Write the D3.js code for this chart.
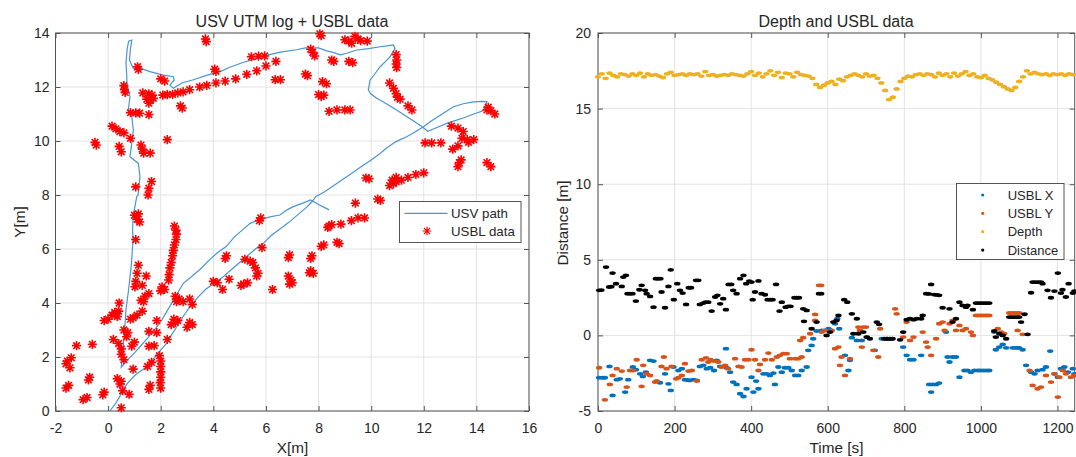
<!DOCTYPE html>
<html>
<head>
<meta charset="utf-8">
<script src="https://cdn.jsdelivr.net/npm/d3@7"></script>
<style>
body { margin: 0; background: #fff; }
svg { font-family: "Liberation Sans", Arial, sans-serif; }
</style>
</head>
<body>
<svg id="chart" width="1076" height="457"></svg>
<script>
// ---- left plot data: USV path [x, y] in metres
var usvPath = [
  [0.07,0],[0.3,0.3],[0.45,0.55],[0.64,0.9],[0.8,1.1],[1.05,1.35],[1.2,1.45],[1.47,1.64],[1.7,1.9],[1.95,2.2],
  [2.23,2.51],[2.4,2.8],[2.6,3.1],[2.85,3.5],[3.11,3.86],[3.4,4.2],[3.7,4.5],[4.05,4.75],[4.38,4.97],[4.7,5.25],
  [5.0,5.5],[5.3,5.75],[5.6,6.0],[5.9,6.21],[6.2,6.5],[6.4,6.65],[6.66,6.83],[6.95,7.05],[7.25,7.3],[7.55,7.55],
  [7.75,7.75],[7.9,7.95],[8.2,8.1],[8.5,8.3],[8.8,8.5],[9.07,8.68],[9.4,8.9],[9.7,9.1],[10.0,9.3],[10.34,9.54],
  [10.6,9.75],[10.9,9.95],[11.1,10.05],[11.35,10.16],[11.6,10.3],[11.99,10.53],[12.3,10.75],[12.7,11.0],[13.13,11.27],[13.5,11.38],
  [13.9,11.45],[14.2,11.47],[14.4,11.46],[14.35,11.3],[14.25,11.12],[13.9,11.0],[13.5,10.85],[12.92,10.67],[12.5,10.5],[12.15,10.36],
  [11.95,10.52],[11.6,10.75],[11.2,11.0],[10.8,11.25],[10.45,11.45],[10.21,11.58],[9.98,11.75],[9.89,11.89],[9.96,12.26],[10.15,12.5],
  [10.34,12.75],[10.55,12.95],[10.72,13.12],[10.91,13.43],[10.84,13.56],[10.6,13.52],[10.34,13.49],[9.9,13.42],[9.45,13.37],[9.07,13.25],
  [8.82,13.19],[8.55,13.28],[8.31,13.34],[8.0,13.45],[7.8,13.45],[7.5,13.45],[7.16,13.38],[6.6,13.3],[6.12,13.2],[5.6,13.05],
  [5.07,12.89],[4.6,12.72],[4.28,12.58],[3.8,12.45],[3.24,12.27],[2.8,12.15],[2.48,11.95],[2.35,12.07],[2.51,12.26],[2.48,12.38],
  [2.1,12.44],[1.59,12.57],[1.27,12.68],[0.95,12.7],[0.81,13.0],[0.85,13.4],[0.9,13.74],[0.78,13.7],[0.72,13.38],[0.68,12.89],
  [0.71,12.4],[0.71,12.14],[0.83,11.64],[0.77,11.15],[0.9,10.9],[0.96,10.41],[0.9,9.91],[0.83,9.42],[1.15,9.17],[1.21,8.68],
  [1.14,8.0],[1.09,7.94],[0.95,7.22],[0.93,6.7],[0.95,6.35],[0.88,5.37],[0.78,4.5],[0.68,3.76],[0.62,2.9],[0.55,2.16],
  [0.5,1.62],[0.75,1.9],[1.0,2.15],[1.21,2.38],[1.5,2.7],[1.8,3.05],[2.04,3.37],[2.3,3.8],[2.6,4.3],[2.86,4.73],
  [3.2,5.0],[3.5,5.25],[3.8,5.55],[4.13,5.84],[4.5,6.1],[4.8,6.45],[5.1,6.7],[5.4,6.95],[5.8,7.1],[6.2,7.2],
  [6.53,7.26],[6.8,7.45],[7.04,7.57],[7.4,7.7],[7.7,7.82],[8.0,7.65],[8.2,7.55],[8.4,7.45]
];

// USBL fixes [x, y]
var usblData = [
  [3.7,13.78],[3.73,13.68],[8.05,13.97],[8.1,13.9],[9.0,13.75],[9.15,13.7],[9.26,13.62],[9.38,13.88],[9.5,13.78],[9.6,13.72],[9.85,13.7],
  [7.7,13.4],[7.78,13.28],[7.85,13.15],[8.5,13.0],[8.58,12.95],[9.15,12.95],[9.3,12.9],
  [10.95,13.2],[10.97,13.0],[10.95,12.85],[10.97,12.72],[5.45,13.12],[5.72,13.14],[5.95,13.15],[4.05,12.66],[4.1,12.58],
  [6.38,12.95],[6.0,12.78],[5.65,12.6],[5.27,12.47],[4.85,12.3],[4.45,12.22],[4.1,12.15],[3.75,12.06],[3.48,12.0],[3.1,11.9],
  [2.85,11.82],[2.65,11.78],[2.45,11.73],[2.25,11.72],[2.08,11.7],[2.0,12.3],[2.15,12.22],[1.12,12.75],[1.15,12.65],
  [0.6,12.05],[0.62,11.9],[0.65,11.8],[1.32,11.78],[1.55,11.75],[1.67,11.7],[1.72,11.58],[1.6,11.5],[1.47,11.55],[1.55,11.4],
  [2.75,11.3],[2.82,11.22],[0.85,11.05],[1.05,11.04],[1.2,11.03],[1.55,10.98],[6.35,12.27],[6.55,12.27],[7.5,12.48],[7.58,12.42],
  [8.15,12.2],[8.3,12.12],[8.0,11.72],[8.1,11.65],[8.2,11.7],[8.4,11.1],[8.7,11.15],[9.0,11.15],[9.2,11.15],
  [10.7,12.15],[10.85,11.95],[10.95,11.75],[11.1,11.55],[11.0,11.62],[11.4,11.3],[11.55,11.15],
  [14.45,11.25],[14.55,11.12],[14.7,11.0],[14.4,11.15],[13.05,10.55],[13.3,10.48],[13.5,10.35],
  [12.05,9.93],[12.3,9.93],[12.65,9.93],[13.45,10.1],[13.65,10.05],[13.9,10.05],[13.7,9.95],[13.1,9.7],[13.3,9.82],
  [13.35,9.2],[13.3,9.05],[13.42,9.3],[14.4,9.2],[14.55,9.05],
  [12.0,8.82],[11.7,8.76],[11.4,8.65],[11.15,8.55],[10.95,8.5],[10.8,8.55],[10.85,8.42],[10.7,8.35],[10.95,8.65],
  [9.8,8.63],[9.92,8.6],[10.25,7.85],[10.35,7.8],[9.4,7.7],[9.5,7.15],[9.75,7.15],[9.25,7.05],[8.85,6.92],
  [8.35,6.8],[8.5,6.9],[8.4,6.85],[8.1,6.1],[8.2,6.15],[8.7,6.25],[8.78,6.2],[7.75,5.75],[7.7,5.65],
  [7.7,5.2],[7.8,5.1],[7.65,5.12],[6.85,5.68],[6.9,5.78],[6.85,5.0],[6.95,4.85],[6.9,4.7],[7.0,4.75],[6.25,4.5],
  [5.8,7.15],[5.75,7.05],[5.85,6.05],[5.2,5.62],[5.5,5.5],[5.6,5.3],[5.4,5.55],[5.65,5.0],[5.7,5.1],
  [5.05,4.65],[5.3,4.75],[5.15,4.7],[4.5,5.75],[4.45,5.65],[4.6,4.88],[4.15,4.75],[4.35,4.5],[4.0,4.8],
  [2.52,6.85],[2.58,6.7],[2.6,6.55],[2.58,6.35],[2.52,6.15],[2.48,5.95],[2.45,5.75],[2.4,5.5],[2.35,5.3],[2.32,5.05],[2.3,4.85],
  [2.05,4.6],[2.15,4.5],[2.0,4.45],[2.55,4.25],[2.7,4.15],[2.85,4.05],[2.6,4.05],[3.1,4.15],[3.2,3.95],
  [2.5,3.4],[2.65,3.35],[2.4,3.2],[2.55,3.28],[3.1,3.28],[3.0,3.1],[3.2,3.2],[2.25,2.65],
  [1.0,7.25],[1.1,7.1],[1.2,7.0],[1.15,7.3],[1.05,6.35],[1.15,5.4],[1.1,5.1],[1.05,4.8],[1.02,4.6],
  [1.65,8.5],[1.55,8.25],[1.52,8.0],[1.05,8.3],[1.25,9.85],[1.35,9.55],[1.3,9.7],[1.6,9.55],[2.25,10.05],
  [-0.5,9.95],[-0.45,9.85],[0.15,10.55],[0.3,10.45],[0.45,10.35],[0.6,10.3],[0.42,9.8],[0.5,9.6],[0.85,10.1],
  [1.25,4.1],[1.4,4.25],[1.55,4.35],[1.35,4.05],[1.45,5.0],[1.3,4.65],
  [0.25,3.65],[0.35,3.5],[0.0,3.4],[-0.15,3.35],[0.15,3.55],[0.4,3.7],[0.42,4.0],
  [0.85,3.4],[1.1,3.55],[1.3,3.7],[0.95,3.45],[0.6,3.0],[0.75,2.9],[0.7,2.75],[0.2,2.65],[0.4,2.5],
  [0.5,2.3],[0.6,1.9],[0.5,2.1],[0.9,2.4],[1.0,2.55],[1.55,2.4],[1.75,2.42],[1.55,2.95],[1.85,3.35],[1.85,2.9],
  [1.5,1.65],[1.65,1.8],[1.95,2.05],[2.0,1.85],[2.0,1.65],[2.0,1.45],[2.0,1.25],[1.98,1.05],[2.0,0.85],
  [1.6,0.95],[1.55,0.8],[0.95,1.55],[0.35,1.2],[0.5,1.1],[0.45,1.0],[0.55,0.75],[0.8,0.62],[0.5,0.12],
  [-0.15,0.7],[-0.2,0.6],[-0.7,1.25],[-0.75,1.15],[-0.8,0.5],[-0.95,0.42],[-1.5,0.95],[-1.6,0.85],
  [-1.55,1.85],[-1.4,1.97],[-1.45,1.6],[-1.6,1.75],[-1.2,2.42],[-0.6,2.47]
];

// ---- right plot data: [time s, value m]
var depth = [
  [0,17.1],[10,17.3],[20,17.0],[30,17.35],[40,17.2],[50,17.1],[60,17.3],[70,17.25],[80,17.15],[90,17.3],
  [100,17.2],[110,17.35],[120,17.1],[130,17.3],[140,17.2],[150,17.25],[160,17.15],[170,17.05],[180,17.3],[190,17.4],
  [200,17.2],[210,17.25],[220,17.3],[230,17.2],[240,17.3],[250,17.25],[260,17.3],[270,17.15],[280,17.45],[290,17.2],
  [300,17.25],[310,17.15],[320,17.2],[330,17.25],[340,17.2],[350,17.3],[360,17.25],[370,17.2],[380,17.15],[390,17.3],
  [400,17.45],[410,17.2],[420,17.35],[430,17.1],[440,17.3],[450,17.5],[460,17.2],[470,17.4],[480,17.05],[490,17.35],
  [500,17.3],[510,17.1],[520,17.4],[530,17.25],[540,17.2],[550,17.15],[560,17.0],[570,16.6],[580,16.4],[590,16.55],
  [600,16.7],[610,16.8],[620,16.6],[630,16.95],[640,16.85],[650,17.1],[660,17.2],[670,17.3],[680,17.2],[690,17.1],
  [700,17.3],[710,17.15],[720,17.2],[730,17.0],[740,16.7],[750,16.2],[760,15.6],[770,15.75],[780,16.3],[790,16.8],
  [800,17.0],[810,17.15],[820,17.1],[830,17.25],[840,17.3],[850,17.2],[860,17.3],[870,17.25],[880,17.1],[890,17.35],
  [900,17.2],[910,17.3],[920,17.1],[930,17.35],[940,17.15],[950,17.3],[960,17.45],[970,17.2],[980,17.3],[990,17.1],
  [1000,17.05],[1010,17.2],[1020,17.0],[1030,16.9],[1040,16.75],[1050,16.6],[1060,16.45],[1070,16.3],[1080,16.2],[1090,16.4],
  [1100,16.8],[1110,17.1],[1120,17.5],[1130,17.3],[1140,17.4],[1150,17.3],[1160,17.25],[1170,17.3],[1180,17.2],[1190,17.3],
  [1200,17.25],[1210,17.3],[1220,17.2],[1230,17.3],[1240,17.25]
];

var distance = [
  [3,2.98],[9,3.0],[21,4.52],[29,3.2],[35,3.22],[38,4.12],[47,3.42],[62,3.24],[66,3.86],[73,3.97],[77,2.76],[83,2.76],[90,2.76],
  [99,2.27],[108,3.02],[114,3.31],[123,2.98],[127,2.76],[136,2.58],[145,1.87],[151,3.75],[157,3.75],[163,3.75],[166,2.87],
  [175,1.83],[184,3.24],[190,4.34],[198,2.36],[207,3.42],[214,2.98],[221,2.8],[230,2.05],[237,3.15],[243,3.15],[256,3.64],
  [262,3.64],[266,2.05],[275,2.14],[281,2.2],[288,2.2],[297,1.61],[306,2.54],[312,2.65],[319,2.09],[327,2.43],[334,1.7],
  [341,3.37],[348,3.37],[353,2.98],[362,2.76],[371,3.75],[380,3.97],[387,3.42],[395,3.59],[401,3.53],[404,2.36],[410,2.87],
  [419,3.6],[427,2.76],[436,2.69],[443,2.36],[450,2.36],[456,2.36],[465,3.37],[474,1.61],[480,2.2],[490,1.87],[497,1.92],
  [503,1.92],[513,2.49],[519,2.49],[525,2.49],[536,1.76],[545,1.65],[538,0.93],[558,0.44],[571,0.88],[577,2.76],[583,2.76],
  [597,0],[606,0.22],[615,0.88],[623,0.99],[628,1.32],[643,2.36],[651,2.2],[663,1.43],[676,1.1],[667,0.11],[680,0.11],
  [693,0.22],[702,-0.11],[710,-0.22],[728,0.88],[734,0.73],[748,-0.22],[755,-0.22],[762,-0.22],[769,-0.22],[789,-0.29],
  [797,0.22],[806,1.04],[815,1.1],[824,1.04],[832,1.1],[844,1.1],[848,1.32],[857,2.76],[864,2.74],[870,3.37],[878,2.7],
  [885,2.68],[891,2.65],[900,1.83],[918,1.76],[926,0.88],[935,1.1],[944,2.2],[952,1.98],[961,1.87],[965,1.98],[979,1.7],
  [987,2.14],[994,2.14],[1001,2.14],[1008,2.14],[1015,2.14],[1022,2.14],[1035,0.29],[1039,-0.11],[1048,0.11],[1057,0],
  [1066,-0.22],[1074,1.21],[1081,1.21],[1088,1.21],[1095,1.21],[1100,1.21],[1105,0.88],[1114,1.4],[1122,0.07],[1131,2.82],
  [1135,3.53],[1142,3.53],[1150,3.53],[1157,3.53],[1161,3.42],[1174,2.98],[1183,2.49],[1192,2.93],[1201,4.12],[1209,2.8],
  [1213,3.02],[1222,2.54],[1229,3.42],[1240,2.8],[1244,2.93]
];

var usblY = [
  [3,-2.14],[18,-4.26],[31,-3.24],[38,-2.65],[49,-2.2],[62,-2.36],[75,-3.42],[84,-2.32],[92,-2.32],[101,-1.61],[114,-3.37],
  [118,-1.98],[127,-2.54],[136,-2.65],[149,-3.09],[153,-3.02],[166,-2.05],[172,-1.43],[179,-2.2],[192,-2.05],[204,-2.87],
  [210,-2.8],[219,-2.65],[227,-1.87],[236,-2.36],[245,-2.32],[258,-3.02],[271,-1.61],[282,-1.48],[288,-1.76],[294,-1.61],
  [303,-1.7],[314,-1.76],[323,-2.09],[332,-1.98],[340,-2.2],[358,-1.54],[367,-2.05],[375,-2.09],[384,-1.61],[393,-1.61],
  [401,-0.95],[410,-1.61],[419,-2.32],[423,-1.92],[436,-1.61],[445,-1.17],[454,-1.61],[467,-1.43],[475,-1.32],[484,-1.21],
  [493,-1.21],[501,-1.54],[515,-1.54],[523,-1.54],[532,-1.43],[528,-0.33],[536,-0.15],[554,0.11],[567,1.39],[567,0.99],
  [577,3.31],[583,3.31],[584,0.22],[593,0.33],[610,0.33],[615,0.88],[619,-0.88],[628,-0.77],[632,-1.98],[645,-2.65],
  [636,-1.43],[658,-1.54],[680,0.55],[684,0.33],[692,0.55],[700,0.55],[689,-0.77],[719,-0.99],[732,-1.43],[737,0.44],
  [776,1.76],[780,1.43],[797,-0.11],[806,0.88],[815,-0.33],[824,-0.11],[848,0.22],[857,-0.44],[861,-0.77],[870,-1.32],
  [883,-0.22],[891,0.77],[900,0.88],[905,0.33],[918,0.77],[926,0.99],[935,0.33],[944,0.66],[952,0.33],[961,0.44],
  [974,0.22],[979,0],[987,1.32],[994,1.32],[1001,1.32],[1008,1.32],[1015,1.32],[1022,1.32],[1044,0.44],[1053,0.22],
  [1061,0.11],[1074,1.48],[1081,1.48],[1088,1.48],[1095,1.48],[1100,1.48],[1096,0.33],[1109,0.07],[1127,-2.32],[1135,-3.31],
  [1148,-3.53],[1157,-3.42],[1170,-2.65],[1183,-3.09],[1192,-2.54],[1201,-4.08],[1205,-2.76],[1214,-2.32],[1222,-2.54],
  [1235,-2.76],[1244,-2.65]
];

var usblX = [
  [3,-2.8],[12,-2.8],[18,-2.8],[30,-2.05],[38,-3.97],[49,-2.93],[57,-2.87],[71,-3.75],[79,-2.93],[91,-2.09],[99,-2.27],
  [110,-2.54],[117,-2.71],[125,-2.43],[136,-1.65],[145,-1.7],[153,-3.02],[162,-3.13],[175,-2.54],[184,-3.2],[190,-3.64],
  [197,-2.09],[210,-2.32],[219,-2.2],[227,-2.93],[233,-2.95],[239,-2.98],[249,-2.93],[258,-2.98],[266,-2.05],[275,-1.98],
  [284,-2.2],[293,-2.14],[303,-2.32],[310,-1.65],[319,-2.05],[334,-0.88],[336,-2.14],[345,-2.43],[353,-3.09],[362,-3.24],
  [371,-3.86],[380,-4.04],[388,-3.53],[401,-2.76],[406,-3.75],[413,-3.02],[419,-3.53],[432,-2.54],[441,-2.54],[449,-2.65],
  [458,-2.49],[462,-3.24],[471,-2.09],[480,-2.43],[488,-2.14],[497,-2.14],[506,-2.32],[515,-2.65],[523,-2.65],[532,-2.32],
  [545,-2.09],[549,-0.99],[558,-0.66],[562,-0.22],[571,0.29],[584,0.33],[593,0.33],[602,0.44],[610,0.33],[619,0.77],
  [625,1.1],[630,0.44],[645,-1.32],[654,-2.32],[658,-1.65],[663,-0.15],[676,-0.33],[689,-0.33],[702,-0.11],[723,-0.99],
  [741,-0.22],[748,-0.22],[755,-0.22],[762,-0.22],[769,-0.22],[797,-0.77],[806,-1.32],[815,-1.61],[824,-1.61],[844,-1.32],
  [865,-3.24],[874,-3.24],[883,-3.24],[891,-3.15],[870,-3.75],[909,0.22],[913,-1.43],[918,-1.76],[926,-1.43],[935,-1.43],
  [944,-2.76],[957,-2.32],[965,-2.32],[974,-2.43],[983,-2.32],[992,-2.32],[999,-2.32],[1007,-2.32],[1015,-2.32],[1022,-2.32],
  [1035,0.22],[1039,-0.95],[1048,-0.77],[1057,-0.6],[1066,-0.82],[1083,-0.82],[1090,-0.82],[1097,-0.82],[1100,-0.82],
  [1109,-0.95],[1118,-1.98],[1131,-2.43],[1140,-2.54],[1148,-2.32],[1161,-2.27],[1170,-2.09],[1181,-1.04],[1192,-2.54],
  [1201,-2.76],[1209,-2.2],[1218,-2.09],[1227,-2.43],[1240,-2.2],[1244,-2.54]
];

var leftXTicks = [-2, 0, 2, 4, 6, 8, 10, 12, 14, 16];
var leftYTicks = [0, 2, 4, 6, 8, 10, 12, 14];
var rightXTicks = [0, 200, 400, 600, 800, 1000, 1200];
var rightYTicks = [-5, 0, 5, 10, 15, 20];

var rightSeries = [
  { name: "USBL X", color: "#0072BD", data: usblX },
  { name: "USBL Y", color: "#D95319", data: usblY },
  { name: "Depth", color: "#EDB120", data: depth },
  { name: "Distance", color: "#000000", data: distance }
];

var textColor = "#262626";
var boxColor = "#555";
var gridColor = "#e3e3e3";
var pathColor = "#4a94d2";

var svg = d3.select("#chart");

var xL = d3.scaleLinear().domain([-2, 16]).range([55.5, 529]);
var yL = d3.scaleLinear().domain([0, 14]).range([411, 33]);
var xR = d3.scaleLinear().domain([0, 1245]).range([598, 1074.7]);
var yR = d3.scaleLinear().domain([-5, 20]).range([411, 33]);

// grid, box, ticks and labels for one panel
function drawFrame(x, y, xTicks, yTicks, yPad) {
  var g = svg.append("g");
  var x0 = x.range()[0], x1 = x.range()[1], y0 = y.range()[0], y1 = y.range()[1];
  var fmt = function(d) { return String(d) };

  g.selectAll(".gx").data(xTicks).enter().append("line")
    .attr("x1", function(d) { return x(d) }).attr("x2", function(d) { return x(d) })
    .attr("y1", y0).attr("y2", y1)
    .attr("stroke", gridColor).attr("stroke-width", 1);
  g.selectAll(".gy").data(yTicks).enter().append("line")
    .attr("x1", x0).attr("x2", x1)
    .attr("y1", function(d) { return y(d) }).attr("y2", function(d) { return y(d) })
    .attr("stroke", gridColor).attr("stroke-width", 1);

  var axB = g.append("g").attr("transform", "translate(0," + y0 + ")")
    .call(d3.axisBottom(x).tickValues(xTicks).tickFormat(fmt).tickSizeInner(-5).tickSizeOuter(0).tickPadding(12));
  var axT = g.append("g").attr("transform", "translate(0," + y1 + ")")
    .call(d3.axisTop(x).tickValues(xTicks).tickSizeInner(-5).tickSizeOuter(0).tickFormat(""));
  var axL = g.append("g").attr("transform", "translate(" + x0 + ",0)")
    .call(d3.axisLeft(y).tickValues(yTicks).tickFormat(fmt).tickSizeInner(-5).tickSizeOuter(0).tickPadding(yPad));
  var axR = g.append("g").attr("transform", "translate(" + x1 + ",0)")
    .call(d3.axisRight(y).tickValues(yTicks).tickSizeInner(-5).tickSizeOuter(0).tickFormat(""));

  [axB, axT, axL, axR].forEach(function(a) {
    a.select(".domain").remove();
    a.selectAll("line").attr("stroke", boxColor);
    a.selectAll("text").attr("fill", textColor).style("font-size", "14px")
      .style("font-family", "'Liberation Sans', Arial, sans-serif");
  });

  g.append("rect").attr("x", x0).attr("y", y1).attr("width", x1 - x0).attr("height", y0 - y1)
    .attr("fill", "none").attr("stroke", boxColor).attr("stroke-width", 1);
  return g;
}

drawFrame(xL, yL, leftXTicks, leftYTicks, 6);
drawFrame(xR, yR, rightXTicks, rightYTicks, 7);

// asterisk marker like matlab '*'
function star(cx, cy, r) {
  var d = r * 0.72;
  return "M" + (cx - r) + "," + cy + "h" + (2 * r) +
    "M" + cx + "," + (cy - r) + "v" + (2 * r) +
    "M" + (cx - d) + "," + (cy - d) + "l" + (2 * d) + "," + (2 * d) +
    "M" + (cx - d) + "," + (cy + d) + "l" + (2 * d) + "," + (-2 * d);
}

// left panel marks
var left = svg.append("g");
left.append("path")
  .datum(usvPath)
  .attr("d", d3.line().x(function(d) { return xL(d[0]) }).y(function(d) { return yL(d[1]) }))
  .attr("fill", "none").attr("stroke", pathColor).attr("stroke-width", 1.2);

left.selectAll(".usbl").data(usblData).enter().append("path")
  .attr("d", function(d) { return star(xL(d[0]), yL(d[1]), 4.6) })
  .attr("stroke", "#ff0000").attr("stroke-width", 1.6).attr("fill", "none");

// right panel marks
var right = svg.append("g");
rightSeries.forEach(function(s) {
  right.selectAll(null).data(s.data).enter().append("ellipse")
    .attr("cx", function(d) { return xR(d[0]) })
    .attr("cy", function(d) { return yR(d[1]) })
    .attr("rx", 3.2).attr("ry", 1.9)
    .attr("fill", s.color);
});

// titles and axis labels
function label(txt, x, y, size, rot) {
  var t = svg.append("text").text(txt)
    .attr("text-anchor", "middle").attr("fill", textColor)
    .style("font-size", size + "px");
  if (rot) t.attr("transform", "translate(" + x + "," + y + ") rotate(-90)");
  else t.attr("x", x).attr("y", y);
}
label("USV UTM log + USBL data", 292, 26.5, 16);
label("Depth and USBL data", 836, 26.5, 16);
label("X[m]", 292.5, 452.5, 15.3);
label("Time [s]", 836.5, 452.5, 15.3);
label("Y[m]", 24.5, 222, 15.3, true);
label("Distance [m]", 567.5, 223, 15.3, true);

// legend of left panel
var lg = svg.append("g");
lg.append("rect").attr("x", 399.5).attr("y", 201.5).attr("width", 121.5).attr("height", 41)
  .attr("fill", "#fff").attr("stroke", boxColor);
lg.append("line").attr("x1", 404.5).attr("x2", 447.5).attr("y1", 213.3).attr("y2", 213.3)
  .attr("stroke", pathColor).attr("stroke-width", 1.2);
lg.append("path").attr("d", star(427, 231, 4.3)).attr("stroke", "#ff0000").attr("stroke-width", 1.2);
lg.append("text").text("USV path").attr("x", 451).attr("y", 218).attr("fill", textColor).style("font-size", "13.3px");
lg.append("text").text("USBL data").attr("x", 451).attr("y", 236).attr("fill", textColor).style("font-size", "13.3px");

// legend of right panel
var rg = svg.append("g");
rg.append("rect").attr("x", 956.5).attr("y", 183.5).attr("width", 107.5).attr("height", 76)
  .attr("fill", "#fff").attr("stroke", boxColor);
rg.selectAll(".item").data(rightSeries).enter().each(function(s, i) {
  var yy = 195 + i * 18.35;
  rg.append("circle").attr("cx", 982.7).attr("cy", yy).attr("r", 1.6).attr("fill", s.color);
  rg.append("text").text(s.name).attr("x", 1007.7).attr("y", yy + 4.6)
    .attr("fill", textColor).style("font-size", "13px");
});
</script>
</body>
</html>
